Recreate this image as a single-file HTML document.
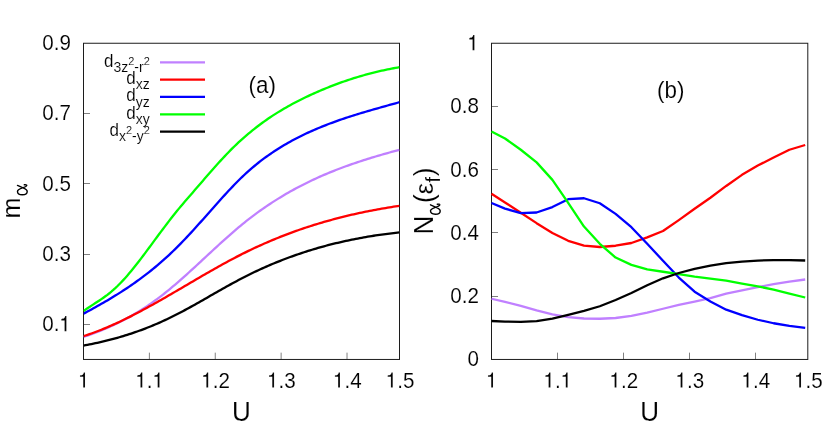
<!DOCTYPE html>
<html><head><meta charset="utf-8"><title>plot</title>
<style>html,body{margin:0;padding:0;background:#fff}svg{display:block;will-change:transform}text{font-family:"Liberation Sans",sans-serif;fill:#000;stroke:#fff;stroke-width:0.12px}</style>
</head><body>
<svg width="828" height="444" viewBox="0 0 828 444">
<rect width="828" height="444" fill="#fff"/>
<line x1="149.38" y1="359.45" x2="149.38" y2="352.65" stroke="#000" stroke-width="0.5"/>
<line x1="215.26" y1="359.45" x2="215.26" y2="352.65" stroke="#000" stroke-width="0.5"/>
<line x1="281.14" y1="359.45" x2="281.14" y2="352.65" stroke="#000" stroke-width="0.5"/>
<line x1="347.02" y1="359.45" x2="347.02" y2="352.65" stroke="#000" stroke-width="0.5"/>
<line x1="83.5" y1="113.50" x2="90.0" y2="113.50" stroke="#000" stroke-width="0.5"/>
<line x1="83.5" y1="183.50" x2="90.0" y2="183.50" stroke="#000" stroke-width="0.5"/>
<line x1="83.5" y1="254.50" x2="90.0" y2="254.50" stroke="#000" stroke-width="0.5"/>
<line x1="83.5" y1="324.50" x2="90.0" y2="324.50" stroke="#000" stroke-width="0.5"/>
<rect x="83.5" y="43.25" width="316.0" height="316.2" fill="none" stroke="#1c1c1c" stroke-width="1"/>
<path transform="translate(77.87,387.50) scale(0.02060,-0.02132)" d="M259 0L259 505L102 505L102 568C238 585 257 601 289 709L347 709L347 0Z" fill="#000" stroke="#fff" stroke-width="5.8"/>
<path transform="translate(135.16,387.50) scale(0.02060,-0.02132)" d="M259 0L259 505L102 505L102 568C238 585 257 601 289 709L347 709L347 0Z" fill="#000" stroke="#fff" stroke-width="5.8"/>
<text transform="translate(146.82,387.50) scale(1,1.05)" font-size="20.6" text-anchor="start">.</text>
<path transform="translate(152.34,387.50) scale(0.02060,-0.02132)" d="M259 0L259 505L102 505L102 568C238 585 257 601 289 709L347 709L347 0Z" fill="#000" stroke="#fff" stroke-width="5.8"/>
<path transform="translate(201.04,387.50) scale(0.02060,-0.02132)" d="M259 0L259 505L102 505L102 568C238 585 257 601 289 709L347 709L347 0Z" fill="#000" stroke="#fff" stroke-width="5.8"/>
<text transform="translate(212.70,387.50) scale(1,1.05)" font-size="20.6" text-anchor="start">.2</text>
<path transform="translate(266.92,387.50) scale(0.02060,-0.02132)" d="M259 0L259 505L102 505L102 568C238 585 257 601 289 709L347 709L347 0Z" fill="#000" stroke="#fff" stroke-width="5.8"/>
<text transform="translate(278.58,387.50) scale(1,1.05)" font-size="20.6" text-anchor="start">.3</text>
<path transform="translate(332.80,387.50) scale(0.02060,-0.02132)" d="M259 0L259 505L102 505L102 568C238 585 257 601 289 709L347 709L347 0Z" fill="#000" stroke="#fff" stroke-width="5.8"/>
<text transform="translate(344.46,387.50) scale(1,1.05)" font-size="20.6" text-anchor="start">.4</text>
<path transform="translate(385.58,387.50) scale(0.02060,-0.02132)" d="M259 0L259 505L102 505L102 568C238 585 257 601 289 709L347 709L347 0Z" fill="#000" stroke="#fff" stroke-width="5.8"/>
<text transform="translate(397.24,387.50) scale(1,1.05)" font-size="20.6" text-anchor="start">.5</text>
<text transform="translate(42.27,50.15) scale(1,1.05)" font-size="20.6" text-anchor="start">0.9</text>
<text transform="translate(42.27,120.42) scale(1,1.05)" font-size="20.6" text-anchor="start">0.7</text>
<text transform="translate(42.27,190.69) scale(1,1.05)" font-size="20.6" text-anchor="start">0.5</text>
<text transform="translate(42.27,260.96) scale(1,1.05)" font-size="20.6" text-anchor="start">0.3</text>
<text transform="translate(42.27,331.23) scale(1,1.05)" font-size="20.6" text-anchor="start">0.</text>
<path transform="translate(59.25,331.23) scale(0.02060,-0.02132)" d="M259 0L259 505L102 505L102 568C238 585 257 601 289 709L347 709L347 0Z" fill="#000" stroke="#fff" stroke-width="5.8"/>
<text transform="translate(241.50,420.60) scale(1,1.06)" font-size="26" text-anchor="middle">U</text>
<line x1="557.50" y1="359.45" x2="557.50" y2="352.65" stroke="#000" stroke-width="0.5"/>
<line x1="623.50" y1="359.45" x2="623.50" y2="352.65" stroke="#000" stroke-width="0.5"/>
<line x1="689.50" y1="359.45" x2="689.50" y2="352.65" stroke="#000" stroke-width="0.5"/>
<line x1="755.50" y1="359.45" x2="755.50" y2="352.65" stroke="#000" stroke-width="0.5"/>
<line x1="491.5" y1="106.50" x2="498.0" y2="106.50" stroke="#000" stroke-width="0.5"/>
<line x1="491.5" y1="169.50" x2="498.0" y2="169.50" stroke="#000" stroke-width="0.5"/>
<line x1="491.5" y1="232.50" x2="498.0" y2="232.50" stroke="#000" stroke-width="0.5"/>
<line x1="491.5" y1="296.50" x2="498.0" y2="296.50" stroke="#000" stroke-width="0.5"/>
<rect x="491.5" y="43.25" width="316.29999999999995" height="316.2" fill="none" stroke="#1c1c1c" stroke-width="1"/>
<path transform="translate(485.87,387.50) scale(0.02060,-0.02132)" d="M259 0L259 505L102 505L102 568C238 585 257 601 289 709L347 709L347 0Z" fill="#000" stroke="#fff" stroke-width="5.8"/>
<path transform="translate(543.28,387.50) scale(0.02060,-0.02132)" d="M259 0L259 505L102 505L102 568C238 585 257 601 289 709L347 709L347 0Z" fill="#000" stroke="#fff" stroke-width="5.8"/>
<text transform="translate(554.94,387.50) scale(1,1.05)" font-size="20.6" text-anchor="start">.</text>
<path transform="translate(560.46,387.50) scale(0.02060,-0.02132)" d="M259 0L259 505L102 505L102 568C238 585 257 601 289 709L347 709L347 0Z" fill="#000" stroke="#fff" stroke-width="5.8"/>
<path transform="translate(609.28,387.50) scale(0.02060,-0.02132)" d="M259 0L259 505L102 505L102 568C238 585 257 601 289 709L347 709L347 0Z" fill="#000" stroke="#fff" stroke-width="5.8"/>
<text transform="translate(620.94,387.50) scale(1,1.05)" font-size="20.6" text-anchor="start">.2</text>
<path transform="translate(675.28,387.50) scale(0.02060,-0.02132)" d="M259 0L259 505L102 505L102 568C238 585 257 601 289 709L347 709L347 0Z" fill="#000" stroke="#fff" stroke-width="5.8"/>
<text transform="translate(686.94,387.50) scale(1,1.05)" font-size="20.6" text-anchor="start">.3</text>
<path transform="translate(741.28,387.50) scale(0.02060,-0.02132)" d="M259 0L259 505L102 505L102 568C238 585 257 601 289 709L347 709L347 0Z" fill="#000" stroke="#fff" stroke-width="5.8"/>
<text transform="translate(752.94,387.50) scale(1,1.05)" font-size="20.6" text-anchor="start">.4</text>
<path transform="translate(793.88,387.50) scale(0.02060,-0.02132)" d="M259 0L259 505L102 505L102 568C238 585 257 601 289 709L347 709L347 0Z" fill="#000" stroke="#fff" stroke-width="5.8"/>
<text transform="translate(805.54,387.50) scale(1,1.05)" font-size="20.6" text-anchor="start">.5</text>
<path transform="translate(467.25,50.15) scale(0.02060,-0.02132)" d="M259 0L259 505L102 505L102 568C238 585 257 601 289 709L347 709L347 0Z" fill="#000" stroke="#fff" stroke-width="5.8"/>
<text transform="translate(450.27,113.39) scale(1,1.05)" font-size="20.6" text-anchor="start">0.8</text>
<text transform="translate(450.27,176.63) scale(1,1.05)" font-size="20.6" text-anchor="start">0.6</text>
<text transform="translate(450.27,239.87) scale(1,1.05)" font-size="20.6" text-anchor="start">0.4</text>
<text transform="translate(450.27,303.11) scale(1,1.05)" font-size="20.6" text-anchor="start">0.2</text>
<text transform="translate(467.45,366.35) scale(1,1.05)" font-size="20.6" text-anchor="start">0</text>
<text transform="translate(649.65,420.60) scale(1,1.06)" font-size="26" text-anchor="middle">U</text>
<clipPath id="ca"><rect x="83.5" y="43.25" width="316.0" height="316.2"/></clipPath>
<g fill="none" stroke-width="2.3" stroke-linejoin="round" stroke-linecap="butt" clip-path="url(#ca)">
<path d="M83.50,336.95 L85.49,336.28 L87.47,335.60 L89.46,334.91 L91.45,334.19 L93.44,333.46 L95.42,332.72 L97.41,331.95 L99.40,331.17 L101.39,330.37 L103.37,329.55 L105.36,328.71 L107.35,327.85 L109.34,326.97 L111.32,326.07 L113.31,325.16 L115.30,324.22 L117.29,323.26 L119.27,322.28 L121.26,321.27 L123.25,320.25 L125.24,319.20 L127.22,318.13 L129.21,317.04 L131.20,315.92 L133.19,314.78 L135.17,313.61 L137.16,312.42 L139.15,311.21 L141.14,309.97 L143.12,308.71 L145.11,307.41 L147.10,306.10 L149.08,304.75 L151.07,303.38 L153.06,301.98 L155.05,300.56 L157.03,299.10 L159.02,297.62 L161.01,296.11 L163.00,294.57 L164.98,293.00 L166.97,291.41 L168.96,289.79 L170.95,288.15 L172.93,286.49 L174.92,284.80 L176.91,283.09 L178.90,281.37 L180.88,279.63 L182.87,277.87 L184.86,276.10 L186.85,274.32 L188.83,272.52 L190.82,270.71 L192.81,268.89 L194.80,267.07 L196.78,265.24 L198.77,263.40 L200.76,261.56 L202.75,259.71 L204.73,257.86 L206.72,256.02 L208.71,254.17 L210.69,252.32 L212.68,250.48 L214.67,248.65 L216.66,246.82 L218.64,244.99 L220.63,243.18 L222.62,241.38 L224.61,239.58 L226.59,237.80 L228.58,236.04 L230.57,234.29 L232.56,232.55 L234.54,230.83 L236.53,229.13 L238.52,227.46 L240.51,225.80 L242.49,224.17 L244.48,222.56 L246.47,220.97 L248.46,219.41 L250.44,217.87 L252.43,216.35 L254.42,214.86 L256.41,213.39 L258.39,211.94 L260.38,210.51 L262.37,209.11 L264.36,207.73 L266.34,206.36 L268.33,205.02 L270.32,203.70 L272.31,202.40 L274.29,201.12 L276.28,199.86 L278.27,198.62 L280.25,197.40 L282.24,196.20 L284.23,195.02 L286.22,193.85 L288.20,192.71 L290.19,191.58 L292.18,190.47 L294.17,189.38 L296.15,188.30 L298.14,187.25 L300.13,186.20 L302.12,185.18 L304.10,184.17 L306.09,183.18 L308.08,182.20 L310.07,181.24 L312.05,180.29 L314.04,179.36 L316.03,178.45 L318.02,177.55 L320.00,176.66 L321.99,175.78 L323.98,174.92 L325.97,174.08 L327.95,173.24 L329.94,172.42 L331.93,171.61 L333.92,170.82 L335.90,170.04 L337.89,169.26 L339.88,168.50 L341.86,167.75 L343.85,167.02 L345.84,166.29 L347.83,165.57 L349.81,164.87 L351.80,164.17 L353.79,163.48 L355.78,162.81 L357.76,162.14 L359.75,161.48 L361.74,160.83 L363.73,160.19 L365.71,159.55 L367.70,158.93 L369.69,158.31 L371.68,157.70 L373.66,157.10 L375.65,156.50 L377.64,155.91 L379.63,155.32 L381.61,154.75 L383.60,154.18 L385.59,153.61 L387.58,153.05 L389.56,152.49 L391.55,151.94 L393.54,151.39 L395.53,150.85 L397.51,150.31 L399.50,149.78" stroke="#c080ff"/>
<path d="M83.50,336.11 L85.49,335.48 L87.47,334.83 L89.46,334.16 L91.45,333.47 L93.44,332.76 L95.42,332.03 L97.41,331.28 L99.40,330.52 L101.39,329.73 L103.37,328.93 L105.36,328.11 L107.35,327.28 L109.34,326.43 L111.32,325.56 L113.31,324.67 L115.30,323.78 L117.29,322.86 L119.27,321.94 L121.26,321.00 L123.25,320.04 L125.24,319.07 L127.22,318.09 L129.21,317.10 L131.20,316.10 L133.19,315.08 L135.17,314.06 L137.16,313.02 L139.15,311.97 L141.14,310.92 L143.12,309.85 L145.11,308.78 L147.10,307.69 L149.08,306.60 L151.07,305.50 L153.06,304.40 L155.05,303.29 L157.03,302.17 L159.02,301.04 L161.01,299.91 L163.00,298.77 L164.98,297.63 L166.97,296.49 L168.96,295.34 L170.95,294.19 L172.93,293.03 L174.92,291.87 L176.91,290.71 L178.90,289.55 L180.88,288.39 L182.87,287.22 L184.86,286.06 L186.85,284.89 L188.83,283.73 L190.82,282.56 L192.81,281.40 L194.80,280.23 L196.78,279.07 L198.77,277.92 L200.76,276.76 L202.75,275.61 L204.73,274.46 L206.72,273.31 L208.71,272.17 L210.69,271.04 L212.68,269.91 L214.67,268.78 L216.66,267.66 L218.64,266.55 L220.63,265.44 L222.62,264.34 L224.61,263.25 L226.59,262.17 L228.58,261.10 L230.57,260.03 L232.56,258.97 L234.54,257.93 L236.53,256.89 L238.52,255.86 L240.51,254.85 L242.49,253.84 L244.48,252.85 L246.47,251.87 L248.46,250.90 L250.44,249.94 L252.43,249.00 L254.42,248.06 L256.41,247.14 L258.39,246.23 L260.38,245.33 L262.37,244.44 L264.36,243.56 L266.34,242.69 L268.33,241.83 L270.32,240.99 L272.31,240.15 L274.29,239.33 L276.28,238.51 L278.27,237.71 L280.25,236.92 L282.24,236.13 L284.23,235.36 L286.22,234.60 L288.20,233.85 L290.19,233.10 L292.18,232.37 L294.17,231.65 L296.15,230.94 L298.14,230.24 L300.13,229.54 L302.12,228.86 L304.10,228.19 L306.09,227.53 L308.08,226.87 L310.07,226.23 L312.05,225.59 L314.04,224.97 L316.03,224.35 L318.02,223.74 L320.00,223.14 L321.99,222.55 L323.98,221.97 L325.97,221.40 L327.95,220.84 L329.94,220.28 L331.93,219.74 L333.92,219.20 L335.90,218.67 L337.89,218.15 L339.88,217.64 L341.86,217.14 L343.85,216.64 L345.84,216.16 L347.83,215.68 L349.81,215.21 L351.80,214.74 L353.79,214.29 L355.78,213.84 L357.76,213.40 L359.75,212.97 L361.74,212.55 L363.73,212.13 L365.71,211.72 L367.70,211.32 L369.69,210.92 L371.68,210.54 L373.66,210.16 L375.65,209.78 L377.64,209.42 L379.63,209.06 L381.61,208.71 L383.60,208.36 L385.59,208.02 L387.58,207.69 L389.56,207.36 L391.55,207.05 L393.54,206.73 L395.53,206.43 L397.51,206.13 L399.50,205.83" stroke="#ff0000"/>
<path d="M83.50,313.68 L85.49,312.62 L87.47,311.55 L89.46,310.48 L91.45,309.39 L93.44,308.30 L95.42,307.21 L97.41,306.10 L99.40,304.98 L101.39,303.85 L103.37,302.71 L105.36,301.56 L107.35,300.40 L109.34,299.22 L111.32,298.03 L113.31,296.82 L115.30,295.60 L117.29,294.37 L119.27,293.12 L121.26,291.85 L123.25,290.57 L125.24,289.27 L127.22,287.95 L129.21,286.61 L131.20,285.25 L133.19,283.88 L135.17,282.48 L137.16,281.06 L139.15,279.62 L141.14,278.16 L143.12,276.67 L145.11,275.17 L147.10,273.63 L149.08,272.08 L151.07,270.49 L153.06,268.89 L155.05,267.25 L157.03,265.59 L159.02,263.90 L161.01,262.19 L163.00,260.44 L164.98,258.67 L166.97,256.86 L168.96,255.03 L170.95,253.16 L172.93,251.27 L174.92,249.34 L176.91,247.38 L178.90,245.38 L180.88,243.36 L182.87,241.30 L184.86,239.22 L186.85,237.12 L188.83,234.99 L190.82,232.85 L192.81,230.68 L194.80,228.50 L196.78,226.30 L198.77,224.09 L200.76,221.87 L202.75,219.65 L204.73,217.41 L206.72,215.17 L208.71,212.93 L210.69,210.69 L212.68,208.44 L214.67,206.20 L216.66,203.97 L218.64,201.75 L220.63,199.53 L222.62,197.33 L224.61,195.14 L226.59,192.97 L228.58,190.83 L230.57,188.71 L232.56,186.61 L234.54,184.55 L236.53,182.51 L238.52,180.51 L240.51,178.55 L242.49,176.63 L244.48,174.76 L246.47,172.92 L248.46,171.13 L250.44,169.38 L252.43,167.67 L254.42,166.00 L256.41,164.36 L258.39,162.77 L260.38,161.21 L262.37,159.69 L264.36,158.20 L266.34,156.75 L268.33,155.33 L270.32,153.94 L272.31,152.58 L274.29,151.26 L276.28,149.96 L278.27,148.70 L280.25,147.46 L282.24,146.25 L284.23,145.07 L286.22,143.91 L288.20,142.78 L290.19,141.67 L292.18,140.59 L294.17,139.52 L296.15,138.48 L298.14,137.46 L300.13,136.46 L302.12,135.48 L304.10,134.52 L306.09,133.58 L308.08,132.65 L310.07,131.74 L312.05,130.85 L314.04,129.98 L316.03,129.12 L318.02,128.28 L320.00,127.45 L321.99,126.64 L323.98,125.85 L325.97,125.06 L327.95,124.29 L329.94,123.54 L331.93,122.80 L333.92,122.07 L335.90,121.35 L337.89,120.64 L339.88,119.95 L341.86,119.26 L343.85,118.59 L345.84,117.92 L347.83,117.27 L349.81,116.62 L351.80,115.99 L353.79,115.36 L355.78,114.74 L357.76,114.12 L359.75,113.52 L361.74,112.92 L363.73,112.32 L365.71,111.73 L367.70,111.15 L369.69,110.57 L371.68,110.00 L373.66,109.43 L375.65,108.86 L377.64,108.30 L379.63,107.74 L381.61,107.18 L383.60,106.62 L385.59,106.07 L387.58,105.51 L389.56,104.96 L391.55,104.40 L393.54,103.85 L395.53,103.30 L397.51,102.74 L399.50,102.18" stroke="#0000ff"/>
<path d="M83.50,311.06 L85.49,309.66 L87.47,308.30 L89.46,306.97 L91.45,305.66 L93.44,304.36 L95.42,303.07 L97.41,301.77 L99.40,300.45 L101.39,299.11 L103.37,297.73 L105.36,296.30 L107.35,294.82 L109.34,293.27 L111.32,291.65 L113.31,289.94 L115.30,288.14 L117.29,286.25 L119.27,284.28 L121.26,282.23 L123.25,280.10 L125.24,277.90 L127.22,275.64 L129.21,273.32 L131.20,270.94 L133.19,268.50 L135.17,266.02 L137.16,263.50 L139.15,260.94 L141.14,258.35 L143.12,255.73 L145.11,253.09 L147.10,250.43 L149.08,247.75 L151.07,245.07 L153.06,242.38 L155.05,239.68 L157.03,236.99 L159.02,234.31 L161.01,231.64 L163.00,228.97 L164.98,226.33 L166.97,223.71 L168.96,221.11 L170.95,218.54 L172.93,216.00 L174.92,213.49 L176.91,211.03 L178.90,208.61 L180.88,206.22 L182.87,203.88 L184.86,201.55 L186.85,199.25 L188.83,196.97 L190.82,194.69 L192.81,192.41 L194.80,190.12 L196.78,187.83 L198.77,185.53 L200.76,183.23 L202.75,180.92 L204.73,178.62 L206.72,176.33 L208.71,174.04 L210.69,171.76 L212.68,169.50 L214.67,167.25 L216.66,165.02 L218.64,162.81 L220.63,160.62 L222.62,158.46 L224.61,156.34 L226.59,154.24 L228.58,152.18 L230.57,150.15 L232.56,148.17 L234.54,146.23 L236.53,144.32 L238.52,142.45 L240.51,140.62 L242.49,138.83 L244.48,137.07 L246.47,135.35 L248.46,133.66 L250.44,132.01 L252.43,130.39 L254.42,128.81 L256.41,127.25 L258.39,125.73 L260.38,124.24 L262.37,122.78 L264.36,121.35 L266.34,119.95 L268.33,118.57 L270.32,117.23 L272.31,115.91 L274.29,114.62 L276.28,113.35 L278.27,112.11 L280.25,110.90 L282.24,109.70 L284.23,108.54 L286.22,107.39 L288.20,106.26 L290.19,105.16 L292.18,104.08 L294.17,103.02 L296.15,101.97 L298.14,100.95 L300.13,99.94 L302.12,98.95 L304.10,97.98 L306.09,97.03 L308.08,96.09 L310.07,95.16 L312.05,94.25 L314.04,93.35 L316.03,92.47 L318.02,91.60 L320.00,90.74 L321.99,89.90 L323.98,89.07 L325.97,88.25 L327.95,87.45 L329.94,86.66 L331.93,85.88 L333.92,85.12 L335.90,84.37 L337.89,83.63 L339.88,82.91 L341.86,82.20 L343.85,81.50 L345.84,80.82 L347.83,80.14 L349.81,79.49 L351.80,78.84 L353.79,78.21 L355.78,77.59 L357.76,76.99 L359.75,76.39 L361.74,75.81 L363.73,75.25 L365.71,74.69 L367.70,74.15 L369.69,73.62 L371.68,73.10 L373.66,72.60 L375.65,72.11 L377.64,71.63 L379.63,71.16 L381.61,70.71 L383.60,70.27 L385.59,69.84 L387.58,69.43 L389.56,69.02 L391.55,68.63 L393.54,68.25 L395.53,67.89 L397.51,67.53 L399.50,67.19" stroke="#00ff00"/>
<path d="M83.50,345.59 L85.49,345.22 L87.47,344.85 L89.46,344.47 L91.45,344.07 L93.44,343.66 L95.42,343.24 L97.41,342.81 L99.40,342.37 L101.39,341.91 L103.37,341.45 L105.36,340.97 L107.35,340.47 L109.34,339.97 L111.32,339.45 L113.31,338.92 L115.30,338.38 L117.29,337.82 L119.27,337.25 L121.26,336.67 L123.25,336.07 L125.24,335.46 L127.22,334.84 L129.21,334.20 L131.20,333.55 L133.19,332.88 L135.17,332.20 L137.16,331.50 L139.15,330.79 L141.14,330.06 L143.12,329.32 L145.11,328.57 L147.10,327.80 L149.08,327.01 L151.07,326.21 L153.06,325.39 L155.05,324.56 L157.03,323.71 L159.02,322.85 L161.01,321.96 L163.00,321.07 L164.98,320.15 L166.97,319.22 L168.96,318.27 L170.95,317.31 L172.93,316.33 L174.92,315.33 L176.91,314.32 L178.90,313.29 L180.88,312.25 L182.87,311.20 L184.86,310.13 L186.85,309.06 L188.83,307.97 L190.82,306.88 L192.81,305.78 L194.80,304.67 L196.78,303.55 L198.77,302.43 L200.76,301.30 L202.75,300.17 L204.73,299.04 L206.72,297.90 L208.71,296.76 L210.69,295.62 L212.68,294.48 L214.67,293.35 L216.66,292.21 L218.64,291.08 L220.63,289.95 L222.62,288.82 L224.61,287.70 L226.59,286.59 L228.58,285.48 L230.57,284.38 L232.56,283.29 L234.54,282.21 L236.53,281.14 L238.52,280.08 L240.51,279.03 L242.49,277.99 L244.48,276.97 L246.47,275.96 L248.46,274.97 L250.44,273.98 L252.43,273.02 L254.42,272.06 L256.41,271.12 L258.39,270.19 L260.38,269.27 L262.37,268.37 L264.36,267.48 L266.34,266.60 L268.33,265.74 L270.32,264.88 L272.31,264.04 L274.29,263.22 L276.28,262.40 L278.27,261.60 L280.25,260.81 L282.24,260.03 L284.23,259.26 L286.22,258.50 L288.20,257.76 L290.19,257.03 L292.18,256.31 L294.17,255.60 L296.15,254.90 L298.14,254.22 L300.13,253.54 L302.12,252.88 L304.10,252.23 L306.09,251.58 L308.08,250.95 L310.07,250.33 L312.05,249.73 L314.04,249.13 L316.03,248.54 L318.02,247.96 L320.00,247.40 L321.99,246.84 L323.98,246.30 L325.97,245.76 L327.95,245.23 L329.94,244.72 L331.93,244.21 L333.92,243.72 L335.90,243.23 L337.89,242.76 L339.88,242.29 L341.86,241.83 L343.85,241.39 L345.84,240.95 L347.83,240.52 L349.81,240.10 L351.80,239.69 L353.79,239.29 L355.78,238.90 L357.76,238.51 L359.75,238.14 L361.74,237.77 L363.73,237.42 L365.71,237.07 L367.70,236.73 L369.69,236.40 L371.68,236.07 L373.66,235.76 L375.65,235.45 L377.64,235.15 L379.63,234.86 L381.61,234.58 L383.60,234.30 L385.59,234.04 L387.58,233.78 L389.56,233.52 L391.55,233.28 L393.54,233.04 L395.53,232.81 L397.51,232.59 L399.50,232.37" stroke="#000000"/>
</g>
<g fill="none" stroke-width="2.3" stroke-linejoin="round" stroke-linecap="butt">
<path d="M491.50,298.75 L505.00,301.88 L520.80,305.83 L536.60,310.46 L552.40,314.48 L568.20,317.02 L584.00,318.51 L599.80,318.75 L615.60,317.99 L631.40,315.81 L647.20,312.68 L663.00,308.75 L678.80,304.82 L694.60,301.58 L710.40,298.10 L726.20,293.62 L742.00,290.30 L757.80,287.13 L773.60,284.10 L789.40,281.56 L805.20,279.50" stroke="#c080ff"/>
<path d="M491.50,193.75 L505.00,202.41 L520.80,212.70 L536.60,223.15 L552.40,232.94 L568.20,240.83 L584.00,245.54 L599.80,247.00 L615.60,245.74 L631.40,243.00 L647.20,237.40 L663.00,231.00 L678.80,220.10 L694.60,208.80 L710.40,197.71 L726.20,185.94 L742.00,174.82 L757.80,165.59 L773.60,157.45 L789.40,149.73 L805.20,145.00" stroke="#ff0000"/>
<path d="M491.50,203.00 L505.00,208.58 L520.80,213.22 L536.60,212.51 L552.40,207.04 L568.20,199.17 L584.00,198.25 L599.80,203.27 L615.60,213.87 L631.40,227.20 L647.20,243.74 L663.00,260.77 L678.80,277.52 L694.60,291.71 L710.40,301.47 L726.20,309.66 L742.00,315.04 L757.80,319.75 L773.60,323.25 L789.40,325.89 L805.20,327.90" stroke="#0000ff"/>
<path d="M491.50,131.50 L505.00,138.45 L520.80,149.73 L536.60,162.36 L552.40,179.87 L568.20,202.80 L584.00,226.57 L599.80,243.80 L615.60,257.56 L631.40,264.88 L647.20,269.34 L663.00,271.75 L678.80,274.15 L694.60,276.69 L710.40,278.63 L726.20,280.69 L742.00,283.66 L757.80,286.34 L773.60,289.74 L789.40,293.51 L805.20,297.50" stroke="#00ff00"/>
<path d="M491.50,321.00 L505.00,321.59 L520.80,321.90 L536.60,321.21 L552.40,318.72 L568.20,314.95 L584.00,310.83 L599.80,306.23 L615.60,299.96 L631.40,293.00 L647.20,285.20 L663.00,278.30 L678.80,272.99 L694.60,268.84 L710.40,265.68 L726.20,263.16 L742.00,261.54 L757.80,260.58 L773.60,260.07 L789.40,260.06 L805.20,260.50" stroke="#000000"/>
</g>
<line x1="160" y1="62.35" x2="205" y2="62.35" stroke="#c080ff" stroke-width="2.3"/>
<line x1="160" y1="79.65" x2="205" y2="79.65" stroke="#ff0000" stroke-width="2.3"/>
<line x1="160" y1="96.95" x2="205" y2="96.95" stroke="#0000ff" stroke-width="2.3"/>
<line x1="160" y1="114.3" x2="205" y2="114.3" stroke="#00ff00" stroke-width="2.3"/>
<line x1="160" y1="131.6" x2="205" y2="131.6" stroke="#000000" stroke-width="2.3"/>
<text transform="translate(149.8,66.9) scale(1,1.05)" text-anchor="end" font-size="17" stroke="none"><tspan font-size="17" dy="0.00">d</tspan><tspan font-size="14" dy="4.48">3z</tspan><tspan font-size="11" dy="-6.76">2</tspan><tspan font-size="14" dy="6.76">-r</tspan><tspan font-size="11" dy="-6.76">2</tspan></text>
<text transform="translate(149.8,83.9) scale(1,1.05)" text-anchor="end" font-size="17" stroke="none"><tspan font-size="17" dy="0.00">d</tspan><tspan font-size="14" dy="4.95">xz</tspan></text>
<text transform="translate(149.8,101.4) scale(1,1.05)" text-anchor="end" font-size="17" stroke="none"><tspan font-size="17" dy="0.00">d</tspan><tspan font-size="14" dy="4.95">yz</tspan></text>
<text transform="translate(149.8,118.8) scale(1,1.05)" text-anchor="end" font-size="17" stroke="none"><tspan font-size="17" dy="0.00">d</tspan><tspan font-size="14" dy="4.95">xy</tspan></text>
<text transform="translate(149.8,136.2) scale(1,1.05)" text-anchor="end" font-size="17" stroke="none"><tspan font-size="17" dy="0.00">d</tspan><tspan font-size="14" dy="4.48">x</tspan><tspan font-size="11" dy="-6.76">2</tspan><tspan font-size="14" dy="6.76">-y</tspan><tspan font-size="11" dy="-6.76">2</tspan></text>
<text transform="translate(262.30,93.30) scale(1,1.05)" font-size="22.4" text-anchor="middle">(a)</text>
<text transform="translate(670.80,98.40) scale(1,1.05)" font-size="22.4" text-anchor="middle">(b)</text>
<g transform="translate(19.5,217.6) rotate(-90)"><text x="-0.86" y="0" font-size="25.2">m</text><path transform="translate(22.28,7.96) scale(0.89)" d="M11.1,-11.2 L8.3,-4.9 C7.2,-2.4 6,-0.3 4.3,-0.3 C1.8,-0.3 0.6,-2.8 0.6,-5.8 C0.6,-8.8 1.9,-11.2 4.4,-11.2 C6.2,-11.2 7.4,-8.3 8.3,-5.6 C9.2,-3.2 9.8,-1.2 10.9,-0.8 C11.8,-0.6 12.1,-2.2 11.8,-3.5" fill="none" stroke="#000" stroke-width="1.6" stroke-linecap="round" stroke-linejoin="round"/></g>
<g transform="translate(432.9,233.9) rotate(-90)"><g transform="scale(1,1.05)"><text x="-0.5" y="0" font-size="26">N</text><text x="31.0" y="0" font-size="26">(</text><text x="39.7" y="0" font-size="25.2">ε</text><text x="51.5" y="6.95" font-size="19.5">f</text><text x="57.7" y="0" font-size="26">)</text></g><path transform="translate(19.18,7.56) scale(0.89)" d="M11.1,-11.2 L8.3,-4.9 C7.2,-2.4 6,-0.3 4.3,-0.3 C1.8,-0.3 0.6,-2.8 0.6,-5.8 C0.6,-8.8 1.9,-11.2 4.4,-11.2 C6.2,-11.2 7.4,-8.3 8.3,-5.6 C9.2,-3.2 9.8,-1.2 10.9,-0.8 C11.8,-0.6 12.1,-2.2 11.8,-3.5" fill="none" stroke="#000" stroke-width="1.6" stroke-linecap="round" stroke-linejoin="round"/></g>
</svg></body></html>
